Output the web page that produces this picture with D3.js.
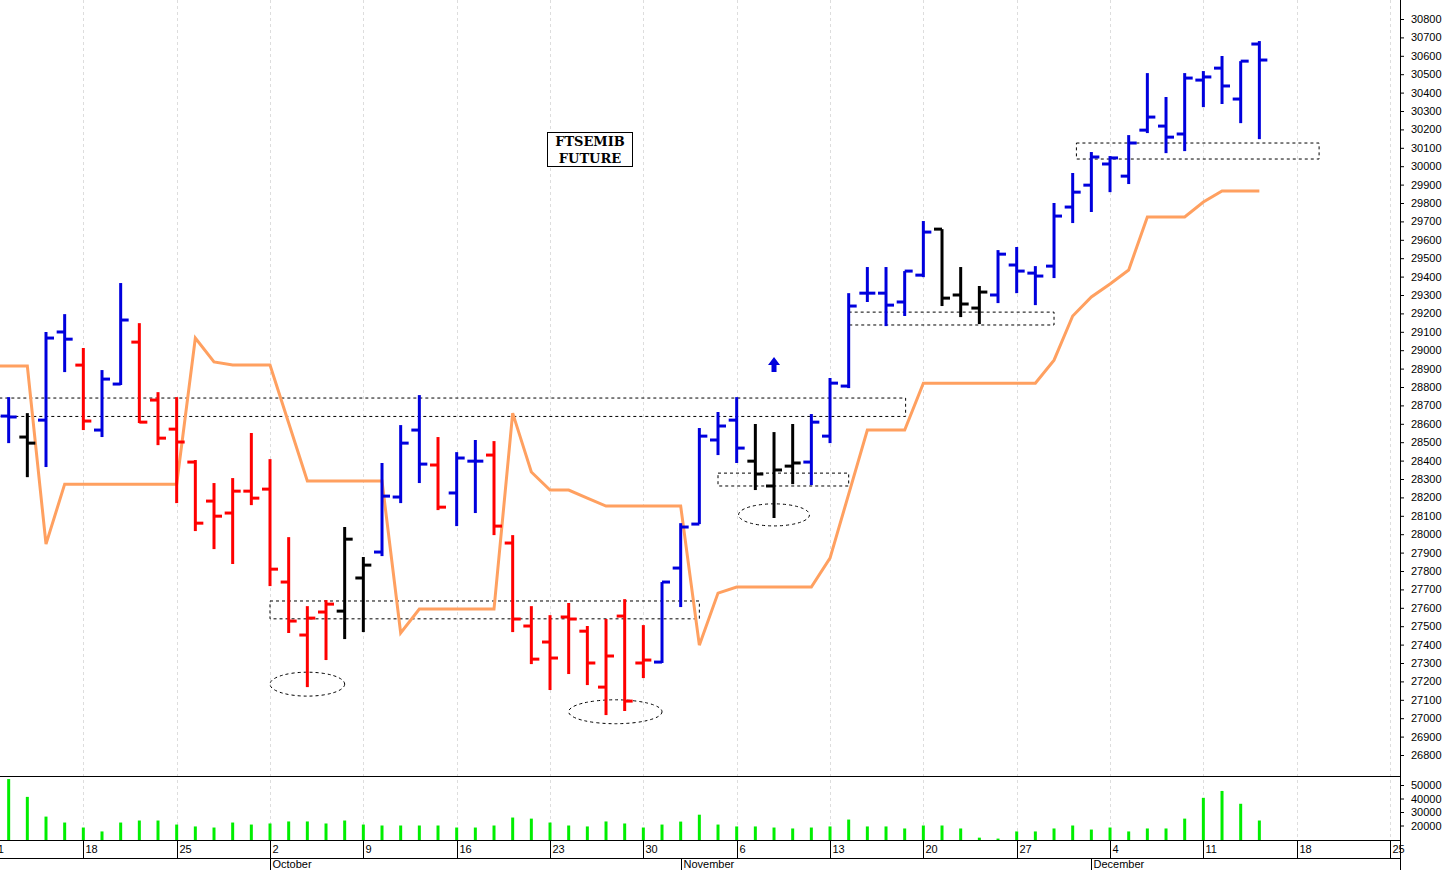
<!DOCTYPE html>
<html><head><meta charset="utf-8">
<script src="https://d3js.org/d3.v7.min.js"></script>
<style>body{margin:0;background:#fff}svg{display:block}</style>
</head><body><svg id="c" width="1449" height="870"></svg>
<script>
const highs=[28745,28658,29099,29196,29012,28892,29365,29147,28772,28745,28403,28278,28305,28550,28408,27984,27609,27642,28039,27876,28387,28593,28756,28528,28446,28512,28506,27995,27609,27560,27626,27501,27539,27647,27506,27740,28060,28577,28664,28745,28599,28555,28599,28653,28849,29310,29452,29452,29430,29702,29658,29452,29349,29544,29561,29457,29800,29963,30077,30055,30169,30506,30376,30506,30517,30599,30571,30680];
const lows=[28495,28310,28365,28881,28566,28528,28811,28604,28484,28169,28017,27919,27838,28158,27718,27463,27169,27316,27430,27468,27881,28169,28278,28131,28044,28115,27995,27468,27294,27153,27240,27180,27017,27039,27218,27300,27604,28055,28430,28387,28240,28088,28272,28267,28495,28794,29262,29131,29186,29397,29240,29180,29142,29256,29310,29245,29392,29691,29751,29859,29903,30180,30071,30082,30321,30338,30234,30147];
const opens=[28642,28528,28620,29099,28919,28566,28816,29044,28729,28571,28392,28180,28115,28234,28245,27740,27452,27577,27582,27762,27903,28202,28566,28376,28224,28397,28430,27952,27501,27414,27550,27473,27169,27555,27300,27305,27816,28055,28512,28620,28397,28262,28370,28392,28533,28805,29310,29310,29262,29408,29658,29300,29229,29300,29463,29419,29457,29778,29897,30012,29946,30196,30218,30175,30468,30533,30365,30664];
const closes=[28637,28495,29066,29060,28615,28843,29164,28609,28522,28501,28060,28098,28234,28196,27810,27528,27544,27620,27973,27832,28207,28495,28381,28147,28414,28397,28044,27539,27321,27327,27539,27300,27338,27093,27316,27740,28039,28533,28588,28468,28327,28349,28387,28609,28821,29240,29310,29245,29430,29642,29283,29251,29316,29522,29430,29403,29729,29859,30050,30045,30126,30267,30158,30479,30485,30436,30571,30577];
const barColors="BKBBRBBRRRRRRRRRRRKKBBBRBBRRRRRRRRRBBBBBKKKBBBBBBBKKKBBBBBBBBBBBBBBB".split("");
const volumes=[54400,41200,26600,22200,18500,15600,22200,23700,23700,20700,19300,18500,22200,20700,21500,23000,23000,21500,23700,20700,20000,20000,20000,20000,18500,18500,20000,25900,25100,22200,20000,19300,23000,21500,18500,20700,22900,28000,20700,19300,19300,18500,17800,18500,19300,24400,19300,19300,17800,20000,20000,17800,11000,10300,15600,15600,17800,20000,17000,18500,15600,17800,17800,25100,40500,45600,36100,23700];
const lineVals=[28914,28914,28914,27946,28272,28272,28272,28272,28272,28272,28272,29066,28936,28919,28919,28919,28604,28289,28289,28289,28289,28289,27463,27593,27593,27593,27593,27593,28658,28338,28240,28240,28196,28153,28153,28153,28153,28153,27397,27680,27713,27713,27713,27713,27713,27870,28218,28566,28566,28566,28821,28821,28821,28821,28821,28821,28821,28946,29186,29289,29360,29436,29724,29724,29724,29805,29865,29865,29865];
const weekLabels=["11","18","25","2","9","16","23","30","6","13","20","27","4","11","18","25"];
const monthLabels=[{name:"October",i:15},{name:"November",i:37},{name:"December",i:59}];
const priceTicks=d3.range(26800,30801,100);
const volTicks=[20000,30000,40000,50000];
const boxes=[{i0:0.5,i1:49.05,lo:28640,hi:28740},{i0:15,i1:38,lo:27540,hi:27637},{i0:39,i1:46,lo:28262,hi:28332},{i0:46,i1:57,lo:29137,hi:29207},{i0:58.2,i1:71.2,lo:30039,hi:30126}];
const ellipses=[{i:17,v:27185,ri:2,rv:65},{i:33.5,v:27035,ri:2.5,rv:65},{i:42,v:28105,ri:1.9,rv:60}];
const colorMap={B:"#0000dd",R:"#ff0000",K:"#000000"};

const svg=d3.select("#c");
const W=1400;
const x=d3.scaleLinear().domain([0,75]).range([-10,-10+75*18.667]);
const y=d3.scaleLinear().domain([26800,30800]).range([755,19]);
const yv=d3.scaleLinear().domain([10000,50000]).range([839,785]);
const font="Liberation Sans, Arial";
svg.append("clipPath").attr("id","cp").append("rect").attr("x",0).attr("y",0).attr("width",W).attr("height",776);
for(let k=0;k<weekLabels.length;k++){const xi=Math.round(x(k*5))+0.5;
 svg.append("line").attr("x1",xi).attr("x2",xi).attr("y1",0).attr("y2",840).attr("stroke","#ddd").attr("stroke-dasharray","3,3");}
const ax=svg.append("g").attr("transform",`translate(${W},0)`).call(d3.axisRight(y).tickValues(priceTicks).tickSize(4).tickFormat(d3.format("d")));
ax.select(".domain").remove();
ax.selectAll("text").attr("font-family",font).attr("font-size",11).attr("x",11);
const av=svg.append("g").attr("transform",`translate(${W},0)`).call(d3.axisRight(yv).tickValues(volTicks).tickSize(4).tickFormat(d3.format("d")));
av.select(".domain").remove();
av.selectAll("text").attr("font-family",font).attr("font-size",11).attr("x",11);
svg.append("line").attr("x1",W+0.5).attr("x2",W+0.5).attr("y1",0).attr("y2",870).attr("stroke","#000");
[776,840,858].forEach(yy=>svg.append("line").attr("x1",0).attr("x2",W).attr("y1",yy+0.5).attr("y2",yy+0.5).attr("stroke","#000"));
weekLabels.forEach((t,k)=>{const xi=Math.round(x(k*5))+0.5;
 svg.append("line").attr("x1",xi).attr("x2",xi).attr("y1",840).attr("y2",858).attr("stroke","#000");
 svg.append("text").attr("x",xi+2).attr("y",853).attr("font-family",font).attr("font-size",11).text(t);});
monthLabels.forEach(m=>{const xi=Math.round(x(m.i))+0.5;
 svg.append("line").attr("x1",xi).attr("x2",xi).attr("y1",858).attr("y2",870).attr("stroke","#000");
 svg.append("text").attr("x",xi+2).attr("y",868).attr("font-family",font).attr("font-size",11).text(m.name);});
volumes.forEach((v,k)=>{const xi=x(k+1);
 svg.append("line").attr("x1",xi).attr("x2",xi).attr("y1",yv(v)).attr("y2",840).attr("stroke","#00ee00").attr("stroke-width",3);});
const pg=svg.append("g").attr("clip-path","url(#cp)");
boxes.forEach(b=>pg.append("rect").attr("x",x(b.i0)).attr("width",x(b.i1)-x(b.i0)).attr("y",y(b.hi)).attr("height",y(b.lo)-y(b.hi)).attr("fill","none").attr("stroke","#000").attr("stroke-dasharray","3,3"));
ellipses.forEach(e=>pg.append("ellipse").attr("cx",x(e.i)).attr("cy",y(e.v)).attr("rx",x(e.ri)-x(0)).attr("ry",y(0)-y(e.rv)).attr("fill","none").attr("stroke","#000").attr("stroke-dasharray","3,3"));
pg.append("path").datum(lineVals).attr("d",d3.line().x((d,i)=>x(i)).y(d=>y(d))).attr("fill","none").attr("stroke","#ffa060").attr("stroke-width",3);
highs.forEach((h,k)=>{const xi=x(k+1),c=colorMap[barColors[k]];
 pg.append("line").attr("x1",xi).attr("x2",xi).attr("y1",y(h)).attr("y2",y(lows[k])).attr("stroke",c).attr("stroke-width",3);
 pg.append("line").attr("x1",xi-8).attr("x2",xi).attr("y1",y(opens[k])).attr("y2",y(opens[k])).attr("stroke",c).attr("stroke-width",3);
 pg.append("line").attr("x1",xi).attr("x2",xi+8).attr("y1",y(closes[k])).attr("y2",y(closes[k])).attr("stroke",c).attr("stroke-width",3);});
const ax0=x(42),ay=y(28920);
pg.append("path").attr("d",`M${ax0},${ay-8} L${ax0+6},${ay} L${ax0+2.5},${ay} L${ax0+2.5},${ay+7} L${ax0-2.5},${ay+7} L${ax0-2.5},${ay} L${ax0-6},${ay} Z`).attr("fill","#0000dd");
const tg=svg.append("g");
tg.append("rect").attr("x",547.5).attr("y",132.5).attr("width",85).attr("height",34).attr("fill","#fff").attr("stroke","#000");
["FTSEMIB","FUTURE"].forEach((t,i)=>tg.append("text").attr("x",590).attr("y",146+i*17).attr("text-anchor","middle").attr("font-family","DejaVu Serif, serif").attr("font-weight","bold").attr("font-size",13).text(t));
</script></body></html>
